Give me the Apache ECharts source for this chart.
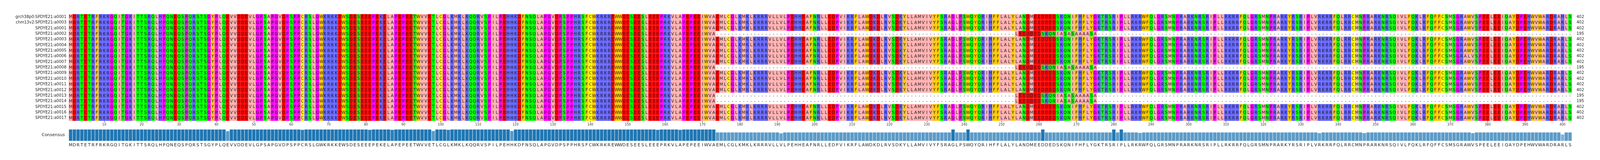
<!DOCTYPE html>
<html>
<head>
<meta charset="utf-8">
<script src="https://cdn.jsdelivr.net/npm/echarts@6/dist/echarts.min.js"></script>
<style>html,body{margin:0;padding:0;background:#fff;overflow:hidden;width:100%;height:100%}#chart{width:100%;height:100%}</style>
</head>
<body>
<div id="chart"></div>
<script>
'use strict';
// sequence names and lengths
var names = ['grch38p0:SPDYE21:a0001', 'chm13v2:SPDYE21:a0003', 'SPDYE21:a0001', 'SPDYE21:a0002', 'SPDYE21:a0003',
	'SPDYE21:a0004', 'SPDYE21:a0005', 'SPDYE21:a0006', 'SPDYE21:a0007', 'SPDYE21:a0008', 'SPDYE21:a0009',
	'SPDYE21:a0010', 'SPDYE21:a0011', 'SPDYE21:a0012', 'SPDYE21:a0013', 'SPDYE21:a0014', 'SPDYE21:a0015',
	'SPDYE21:a0016', 'SPDYE21:a0017'];
var lengths = [402, 402, 402, 195, 402, 402, 402, 402, 402, 195, 402, 402, 402, 402, 195, 195, 402, 402, 402];
// consensus sequence (402 columns)
var consensus = 'MDRTETRFRKRGQITGKITTSRQLHPQNEQSPQRSTSGYPLQEVV' +
	'DDEVLGPSAPGVDPSPPCRSLGWKRKKEWSDESEEEPEKELAPEP' +
	'EETWVVETLCGLKMKLKQQRVSPILPEHHKDFNSQLAPGVDPSPP' +
	'HRSFCWKRKREWWDESEESLEEEPRKVLAPEPEEIWVAEMLCGLK' +
	'MKLKRRRVLLVLPEHHEAFNRLLEDPVIKRFLAWDKDLRVSDKYL' +
	'LAMVIVYFSRAGLPSWQYQRIHFFLALYLANDMEEDDEDSKQNIFH' +
	'FLYGKTRSRIPLLRKRWFQLGRSMNPRARKNRSRIPLLRKRRFQL' +
	'GRSMNPRARKYRSRIPLVRKRRFQLRRCMNPRARKNRSQIVLFQK' +
	'LRFQFFCSMSGRAWVSPEELEEIQAYDPEHWVWARDRARLS';
// consensus conservation (%), read per column
var dips = {43: 85, 63: 97, 81: 97, 87: 97, 98: 87, 102: 97, 119: 87, 158: 97, 164: 97,
	191: 66, 237: 100, 241: 100, 261: 100, 280: 100, 282: 100, 287: 70, 335: 68, 347: 68, 376: 68, 400: 56};
// fragment kept by the short sequences
var shortFragment = 'LEEDDEDSKQNIASASAAAASA';
var fragmentStart = 254;
// point substitutions: [row, column, residue]
var substitutions = [[0, 400, 'H'], [2, 400, 'H'], [7, 375, 'L']];
var tickLabels = [];
for (var t = 10; t <= 400; t += 10) tickLabels.push(t);

var conservation = [];
for (var c = 1; c <= consensus.length; c++) {
	conservation.push([c, dips[c] !== undefined ? dips[c] : (c < 174 ? 100 : 74)]);
}

var zappo = {
	I: '#ffafaf', L: '#ffafaf', V: '#ffafaf', A: '#ffafaf', M: '#ffafaf',
	F: '#ffc800', W: '#ffc800', Y: '#ffc800',
	K: '#6464ff', R: '#6464ff', H: '#6464ff',
	D: '#ff0000', E: '#ff0000',
	S: '#00ff00', T: '#00ff00', N: '#00ff00', Q: '#00ff00',
	P: '#ff00ff', G: '#ff00ff', C: '#ffff00', '-': '#ffffff'
};

// build aligned rows
var cells = [], letters = [];
names.forEach(function(n, r) {
	var seq = consensus.split('');
	if (lengths[r] < 402) {
		for (var i = 0; i < seq.length; i++) {
			var col = i + 1;
			var inFrag = col >= fragmentStart && col < fragmentStart + shortFragment.length;
			if (inFrag) seq[i] = shortFragment[col - fragmentStart];
			else if (col >= 174) seq[i] = '-';
		}
	}
	substitutions.forEach(function(s) { if (s[0] === r) seq[s[1] - 1] = s[2]; });
	seq.forEach(function(ch, i) { cells.push([i + 1, r]); letters.push(ch); });
});

var chart = echarts.init(document.getElementById('chart'));
var font = 'DejaVu Sans';
var L = 176, R = 72;
var option = {
	animation: false,
	textStyle: {fontFamily: font},
	grid: [
		{left: L, right: R, top: 36, height: 273, outerBoundsMode: 'none', containLabel: false},
		{left: L, right: R, top: 331, height: 29, outerBoundsMode: 'none', containLabel: false}
	],
	xAxis: [
		{gridIndex: 0, type: 'value', min: 0.5, max: 402.5, splitLine: {show: false},
			axisLine: {show: false},
			axisTick: {show: true, length: 4, lineStyle: {color: '#333'}, customValues: tickLabels},
			axisLabel: {fontSize: 8, color: '#333', margin: 6, customValues: tickLabels}},
		{gridIndex: 1, type: 'value', min: 0.5, max: 402.5, splitLine: {show: false},
			axisLine: {show: false}, axisTick: {show: false},
			axisLabel: {fontSize: 11, color: '#222', margin: 6,
				customValues: consensus.split('').map(function(ch, i) { return i + 1; }),
				formatter: function(v) { return consensus[Math.round(v) - 1] || ''; }}}
	],
	yAxis: [
		{gridIndex: 0, type: 'category', data: names, inverse: true, axisLine: {show: false}, axisTick: {show: false},
			axisLabel: {fontSize: 10, color: '#222', margin: 6}},
		{gridIndex: 0, type: 'category', data: lengths.map(String), inverse: true, position: 'right',
			axisLine: {show: false}, axisTick: {show: false}, axisLabel: {fontSize: 10, color: '#222', margin: 12}},
		{gridIndex: 1, type: 'value', min: 0, max: 100, show: false},
		{gridIndex: 1, type: 'category', data: ['Consensus'], position: 'left', axisLine: {show: false},
			axisTick: {show: false}, axisLabel: {fontSize: 11, color: '#222', margin: 10}}
	],
	series: [
		{
			type: 'custom', xAxisIndex: 0, yAxisIndex: 0, data: cells, progressive: 0,
			renderItem: function(params, api) {
				var p = api.coord([api.value(0), api.value(1)]);
				var w = api.size([1, 0])[0];
				var h = api.size([0, 1])[1];
				var ch = letters[params.dataIndex];
				return {type: 'group', children: [
					{type: 'rect', shape: {x: p[0] - w / 2, y: p[1] - h / 2, width: w, height: h},
						style: {fill: zappo[ch] || '#ffffff'}},
					{type: 'text', style: {x: p[0], y: p[1] + 0.5, text: ch, fill: '#222', fontSize: 10.5,
						fontFamily: font, align: 'center', verticalAlign: 'middle'}}
				]};
			}
		},
		{
			type: 'bar', xAxisIndex: 1, yAxisIndex: 2, data: conservation, barWidth: 8.6,
			itemStyle: {
				color: function(p) {
					var v = p.value[1];
					if (v >= 99) return '#1f77b4';
					if (v >= 90) return '#2b7fba';
					if (v >= 72) return '#5b9bc8';
					if (v >= 64) return '#66a3cc';
					return '#7fb2d6';
				}
			}
		}
	]
};
chart.setOption(option);
window.addEventListener('resize', function() { chart.resize(); });
</script>
</body>
</html>
